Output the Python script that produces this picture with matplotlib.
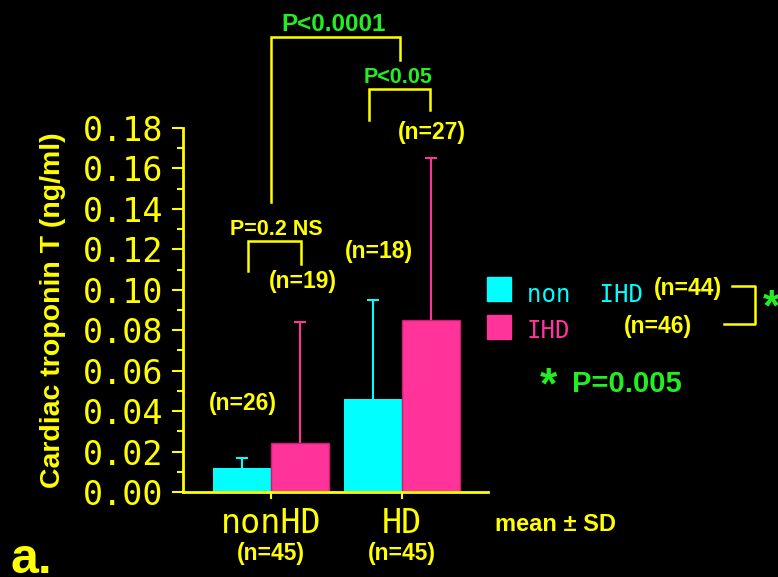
import numpy as np
import matplotlib.pyplot as plt
from matplotlib.ticker import MultipleLocator

# data (ng/ml)
groups = ["nonHD", "HD"]
group_n = ["(n=45)", "(n=45)"]
non_ihd_mean = [0.012, 0.046]
non_ihd_sd = [0.005, 0.049]
ihd_mean = [0.024, 0.085]
ihd_sd = [0.060, 0.080]
non_ihd_n = ["(n=26)", "(n=18)"]
ihd_n = ["(n=19)", "(n=27)"]

YELLOW = "#ffff00"
CYAN = "#00ffff"
MAGENTA = "#ff3399"
GREEN = "#22ee22"
BOLD = dict(family="Liberation Sans", weight="bold")
MONO = "DejaVu Sans Mono"

W, H = 778, 577


def px(x, y):
    # pixel position -> figure fraction
    return x / W, 1 - y / H


fig = plt.figure(figsize=(W / 100, H / 100), dpi=100, facecolor="black")
ax = fig.add_axes([183 / W, (H - 492) / H, (488 - 183) / W, (492 - 128) / H])
ax.set_facecolor("black")

x = np.arange(len(groups))
bw = 0.443
ax.bar(x - bw, non_ihd_mean, bw, align="edge", color=CYAN, zorder=2)
ax.bar(x, ihd_mean, bw, align="edge", color=MAGENTA, edgecolor="#c81f73",
       linewidth=1, zorder=2)

# upward-only SD bars: hide the cap sitting on the bar top
for xs, m, sd, c in [(x - bw / 2, non_ihd_mean, non_ihd_sd, CYAN),
                     (x + bw / 2, ihd_mean, ihd_sd, MAGENTA)]:
    _, caps, _ = ax.errorbar(xs, m, yerr=[np.zeros(2), sd], fmt="none",
                             ecolor=c, elinewidth=1.5, capsize=4.5,
                             capthick=1.5, zorder=3)
    caps[0].set_visible(False)

ax.set_xlim(-0.672, 1.656)
ax.set_ylim(0, 0.18)

# axes styling
for side in ["top", "right"]:
    ax.spines[side].set_visible(False)
for side in ["left", "bottom"]:
    ax.spines[side].set_color(YELLOW)
    ax.spines[side].set_linewidth(2)
ax.yaxis.set_major_locator(MultipleLocator(0.02))
ax.yaxis.set_minor_locator(MultipleLocator(0.01))
ax.yaxis.set_major_formatter("{x:.2f}")
ax.tick_params(axis="y", which="major", colors=YELLOW, length=8, width=1.5,
               labelsize=24, pad=6)
ax.tick_params(axis="y", which="minor", colors=YELLOW, length=4, width=1.5)
for lab in ax.get_yticklabels():
    lab.set_family(MONO)
ax.set_xticks(x)
ax.set_xticklabels(groups, family=MONO, fontsize=24, color=YELLOW)
ax.tick_params(axis="x", colors=YELLOW, length=5, width=1.5, pad=6)

ax.set_ylabel("Cardiac troponin T (ng/ml)", color=YELLOW, fontsize=20.5,
              labelpad=12, **BOLD)

# group sizes under the tick labels
for xi, n in zip(x, group_n):
    ax.text(xi, -0.168, n, transform=ax.get_xaxis_transform(), ha="center",
            va="center", color=YELLOW, fontsize=16.5, **BOLD)

# subgroup sizes above bars
n_pos = [(-0.214, 0.044), (0.824, 0.1187)]
for (tx, ty), n in zip(n_pos, non_ihd_n):
    ax.text(tx, ty, n, ha="center", va="center", color=YELLOW, fontsize=16.5, **BOLD)
n_pos = [(0.244, 0.1039), (1.229, 0.178)]
for (tx, ty), n in zip(n_pos, ihd_n):
    ax.text(tx, ty, n, ha="center", va="center", color=YELLOW, fontsize=16.5,
            clip_on=False, **BOLD)


def bracket(x0, x1, ytop, y0, y1):
    ax.plot([x0, x0, x1, x1], [y0, ytop, ytop, y1], color=YELLOW, lw=1.8,
            clip_on=False, solid_joinstyle="miter")


bracket(0.0, 0.985, 0.2250, 0.1434, 0.2136)
ax.text(0.48, 0.228, "P<0.0001", ha="center", va="baseline", color=GREEN,
        fontsize=17.5, clip_on=False, **BOLD)
bracket(0.748, 1.214, 0.1993, 0.184, 0.189)
ax.text(0.97, 0.2023, "P<0.05", ha="center", va="baseline", color=GREEN,
        fontsize=15.5, clip_on=False, **BOLD)
bracket(-0.176, 0.229, 0.1241, 0.1093, 0.1128)
ax.text(0.038, 0.1271, "P=0.2 NS", ha="center", va="baseline", color=YELLOW,
        fontsize=15.5, **BOLD)

# legend drawn by hand
for y0, c in [(277, CYAN), (315, MAGENTA)]:
    fx, fy = px(487, y0 + 24)
    fig.patches.append(plt.Rectangle((fx, fy), 24 / W, 24 / H, color=c,
                                     transform=fig.transFigure))
fig.text(*px(527, 302), "non  IHD", color=CYAN, family=MONO, fontsize=17.3,
         va="baseline")
fig.text(*px(527, 338), "IHD", color=MAGENTA, family=MONO, fontsize=17.3,
         va="baseline")
fig.text(*px(688, 288), "(n=44)", color=YELLOW, fontsize=16.5, ha="center",
         va="center", **BOLD)
fig.text(*px(658, 327), "(n=46)", color=YELLOW, fontsize=16.5, ha="center",
         va="center", **BOLD)
bx = [px(732, 286), px(755, 286), px(755, 324), px(724, 324)]
fig.lines.append(plt.Line2D([p[0] for p in bx], [p[1] for p in bx], color=YELLOW,
                            lw=1.8, transform=fig.transFigure))
fig.text(*px(763, 320), "*", color=GREEN, fontsize=32, ha="left",
         va="baseline", **BOLD)

fig.text(*px(548, 398), "*", color=GREEN, fontsize=32, ha="center",
         va="baseline", **BOLD)
fig.text(*px(572, 392), "P=0.005", color=GREEN, fontsize=21, va="baseline", **BOLD)

fig.text(*px(495, 531), "mean \u00b1 SD", color=YELLOW, fontsize=17,
         va="baseline", **BOLD)
fig.text(*px(11, 573), "a.", color=YELLOW, fontsize=36, va="baseline", **BOLD)

fig.savefig("out.png", dpi=100, facecolor="black")
